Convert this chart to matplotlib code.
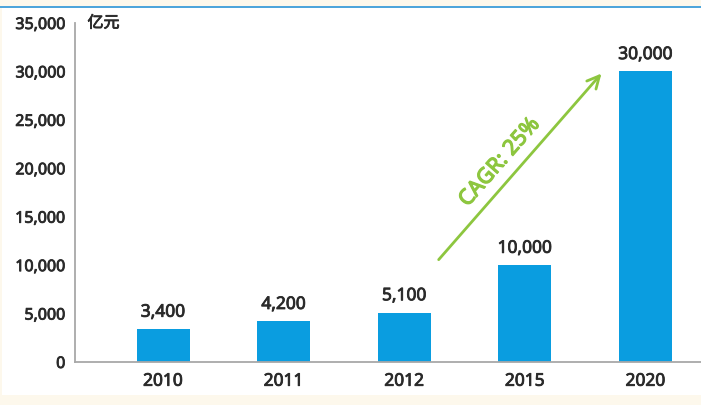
import matplotlib.pyplot as plt
from matplotlib import ticker, patheffects
from matplotlib.patches import Rectangle
from matplotlib.lines import Line2D

years = ['2010', '2011', '2012', '2015', '2020']
market_size = [3400, 4200, 5100, 10000, 30000]  # 亿元
cagr_label = 'CAGR: 25%'

bar_color = '#0a9de0'
arrow_color = '#8dc63f'
text_color = '#2a2a2a'

plt.rcParams['font.family'] = ['Noto Sans', 'Noto Sans CJK SC', 'DejaVu Sans']

# slightly heavier strokes than the regular weight
thick_dark = [patheffects.withStroke(linewidth=0.6, foreground=text_color)]
thick_green = [patheffects.withStroke(linewidth=0.9, foreground=arrow_color)]

fig = plt.figure(figsize=(7.01, 4.05), dpi=100)
fig.patch.set_facecolor('#fdf8ec')

# white card with a thin blue rule along its top edge
fig.patches.append(Rectangle((2 / 701, 10 / 405), 699 / 701, 387 / 405,
                             transform=fig.transFigure, facecolor='white',
                             edgecolor='none', zorder=-10))
fig.lines.append(Line2D([0, 1], [1 - 7 / 405, 1 - 7 / 405], transform=fig.transFigure,
                        color='#2b95d8', linewidth=1.2, zorder=-5))

ax = fig.add_axes([75 / 701, 1 - 362 / 405, 626 / 701, (362 - 23) / 405])
ax.set_facecolor('none')

x = range(len(years))
ax.bar(x, market_size, width=0.44, color=bar_color, zorder=2)

for i, v in enumerate(market_size):
    ax.annotate(f'{v:,}', (i, v), xytext=(0, 6), textcoords='offset points',
                ha='center', va='bottom', fontsize=12.5, color=text_color,
                path_effects=thick_dark)

ax.set_xlim(-0.73, 4.46)
ax.set_ylim(0, 35000)
ax.set_xticks(list(x))
ax.set_xticklabels(years, fontsize=12.5, color=text_color)
ax.set_yticks(range(0, 35001, 5000))
ax.yaxis.set_major_formatter(ticker.FuncFormatter(lambda v, _: format(int(v), ',')))
ax.tick_params(axis='y', length=0, pad=7, labelsize=11.5, labelcolor=text_color)
ax.tick_params(axis='x', length=0, pad=7)
for lbl in ax.get_xticklabels() + ax.get_yticklabels():
    lbl.set_path_effects(thick_dark)

for side in ('top', 'right'):
    ax.spines[side].set_visible(False)
for side in ('left', 'bottom'):
    ax.spines[side].set_color('#a8a8a8')
    ax.spines[side].set_linewidth(1.3)

ax.text(0.02, 1.0, '亿元', transform=ax.transAxes, ha='left', va='center',
        fontsize=11.5, color=text_color, path_effects=thick_dark,
        family=['Noto Sans CJK SC', 'DejaVu Sans'])

# growth arrow from 2012 up to 2020
ax.annotate('', xy=(3.65, 30000), xytext=(2.27, 10350),
            arrowprops=dict(arrowstyle='->', color=arrow_color, lw=2,
                            mutation_scale=22))
ax.text(2.79, 20600, cagr_label, rotation=48.7, ha='center', va='center',
        rotation_mode='anchor', fontsize=15.5, color=arrow_color,
        path_effects=thick_green)

fig.savefig('out.png', dpi=100, facecolor=fig.get_facecolor())
